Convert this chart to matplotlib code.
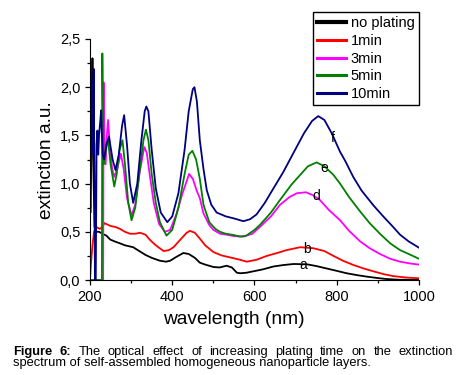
import numpy as np
import matplotlib
matplotlib.use("Agg")
import matplotlib.pyplot as plt
from matplotlib.ticker import MultipleLocator, FuncFormatter

plt.rcParams['font.family'] = ['Liberation Sans', 'DejaVu Sans']

# spectra (wavelength nm, extinction a.u.)
wl_a = [200, 201, 204, 206, 208, 211, 216, 222, 230, 240, 249, 260, 273, 285, 305, 320, 335, 350,
        370, 385, 395, 410, 427, 440, 455, 467, 480, 500, 515, 532, 545, 557, 565, 580, 597, 620,
        646, 670, 695, 727, 750, 775, 800, 824, 850, 873, 900, 921, 950, 1000]
ext_a = [0.75, 0.75, 1.5, 2.3, 1.2, 0.55, 0.5, 0.5, 0.48, 0.46, 0.42, 0.4, 0.38, 0.36, 0.34, 0.3, 0.26, 0.23,
         0.2, 0.19, 0.2, 0.24, 0.28, 0.27, 0.23, 0.18, 0.16, 0.135, 0.13, 0.148, 0.13, 0.076, 0.07, 0.075, 0.09, 0.11,
         0.14, 0.155, 0.166, 0.163, 0.145, 0.12, 0.095, 0.07, 0.05, 0.035, 0.02, 0.01, 0.003, 0.0]

wl_b = [200, 202, 206, 210, 215, 224, 230, 235, 240, 250, 262, 273, 285, 297, 310, 322, 335, 346,
        360, 379, 392, 403, 420, 435, 443, 455, 467, 480, 500, 520, 540, 565, 581, 605, 630, 655,
        678, 711, 743, 770, 792, 815, 841, 865, 889, 915, 938, 970, 1000]
ext_b = [0.0, 0.15, 0.36, 0.5, 0.55, 0.53, 0.55, 0.59, 0.58, 0.56, 0.55, 0.53, 0.5, 0.48, 0.48, 0.49, 0.47, 0.415,
         0.36, 0.3, 0.31, 0.34, 0.42, 0.49, 0.51, 0.49, 0.43, 0.36, 0.29, 0.255, 0.235, 0.21, 0.19, 0.21, 0.25, 0.28,
         0.31, 0.34, 0.33, 0.3, 0.25, 0.2, 0.155, 0.12, 0.09, 0.06, 0.04, 0.025, 0.018]

wl_c = [200, 232, 233, 235, 238, 241, 244, 248, 254, 259, 266, 275, 282, 290, 301, 310, 320, 332,
        338, 345, 355, 368, 382, 395, 410, 425, 441, 450, 460, 467, 476, 490, 500, 516, 532, 550,
        573, 595, 613, 640, 662, 685, 703, 725, 742, 759, 780, 808, 830, 857, 880, 905, 930, 954, 980, 1000]
ext_c = [0.0, 0.0, 2.05, 1.5, 1.2, 1.5, 1.66, 1.4, 1.15, 1.07, 1.15, 1.31, 1.15, 0.85, 0.67, 0.78, 1.1, 1.38,
         1.32, 1.1, 0.8, 0.58, 0.5, 0.52, 0.68, 0.9, 1.1, 1.05, 0.92, 0.85, 0.69, 0.57, 0.52, 0.48, 0.47, 0.455,
         0.45, 0.48, 0.55, 0.66, 0.78, 0.86, 0.9, 0.91, 0.88, 0.83, 0.73, 0.62, 0.51, 0.4, 0.33, 0.27, 0.22, 0.19, 0.17, 0.16]

wl_d = [200, 229, 230, 231, 233, 236, 240, 244, 250, 259, 265, 272, 279, 285, 293, 301, 310, 320,
        330, 336, 342, 350, 360, 370, 386, 400, 415, 430, 440, 449, 458, 467, 476, 490, 505, 516,
        530, 549, 565, 580, 600, 613, 640, 662, 690, 711, 730, 751, 770, 792, 808, 830, 857, 880,
        905, 930, 954, 980, 1000]
ext_d = [0.0, 0.0, 2.35, 1.9, 1.2, 1.25, 1.4, 1.45, 1.2, 0.97, 1.1, 1.35, 1.45, 1.2, 0.8, 0.62, 0.75, 1.1,
         1.45, 1.56, 1.45, 1.1, 0.8, 0.6, 0.46, 0.52, 0.75, 1.1, 1.3, 1.34, 1.25, 1.05, 0.78, 0.6, 0.53, 0.5,
         0.48, 0.467, 0.45, 0.46, 0.52, 0.57, 0.7, 0.83, 0.99, 1.09, 1.18, 1.22, 1.18, 1.09, 1.0, 0.86, 0.71, 0.59,
         0.48, 0.38, 0.31, 0.26, 0.22]

wl_e = [200, 201, 202, 204, 206, 207, 209, 211, 212, 214, 216, 218, 220, 222, 225, 227, 229, 231,
        234, 240, 246, 255, 262, 270, 278, 283, 290, 297, 305, 315, 325, 333, 337, 342, 350, 360,
        372, 388, 400, 415, 430, 440, 450, 454, 460, 467, 476, 484, 495, 508, 530, 549, 573, 589,
        605, 625, 646, 670, 695, 720, 740, 755, 770, 788, 808, 820, 840, 860, 873, 890, 913, 935,
        954, 975, 1000]
ext_e = [0.9, 0.7, 1.1, 1.9, 2.07, 1.3, 2.19, 1.0, 0.0, 0.0, 1.4, 1.55, 1.3, 1.5, 1.65, 1.76, 1.5, 1.3,
         1.25, 1.4, 1.49, 1.25, 1.14, 1.3, 1.6, 1.71, 1.4, 1.0, 0.8, 1.0, 1.45, 1.75, 1.8, 1.75, 1.35, 0.95,
         0.7, 0.6, 0.66, 0.9, 1.35, 1.75, 1.98, 2.0, 1.85, 1.45, 1.15, 0.93, 0.78, 0.7, 0.66, 0.64, 0.61, 0.63,
         0.68, 0.8, 0.95, 1.12, 1.32, 1.52, 1.65, 1.7, 1.66, 1.52, 1.33, 1.24, 1.07, 0.93, 0.86, 0.77, 0.66, 0.56,
         0.47, 0.4, 0.335]

series = [(wl_a, ext_a, 'black', 'no plating'),
          (wl_b, ext_b, '#ff0000', '1min'),
          (wl_c, ext_c, '#ff00ff', '3min'),
          (wl_d, ext_d, '#008000', '5min'),
          (wl_e, ext_e, '#000080', '10min')]

tags = ['a', 'b', 'd', 'e', 'f']
tag_x = [718, 728, 750, 769, 791]
tag_y = [0.156, 0.322, 0.87, 1.16, 1.47]

fig = plt.figure(figsize=(4.64, 3.75), dpi=100)
ax = fig.add_axes([90 / 464, 1 - 280 / 375, 329 / 464, 241 / 375])

lines = []
for x, y, c, lab in series:
    ln, = ax.plot(x, y, color=c, lw=1.3, label=lab)
    lines.append(ln)

for t, x, y in zip(tags, tag_x, tag_y):
    ax.text(x, y, t, fontsize=10, ha='center', va='center')

ax.set_xlim(200, 1000)
ax.set_ylim(0, 2.5)
ax.xaxis.set_major_locator(MultipleLocator(200))
ax.xaxis.set_minor_locator(MultipleLocator(100))
ax.yaxis.set_major_locator(MultipleLocator(0.5))
ax.yaxis.set_minor_locator(MultipleLocator(0.25))
ax.yaxis.set_major_formatter(FuncFormatter(lambda v, p: f"{v:.1f}".replace('.', ',')))
ax.spines['top'].set_visible(False)
ax.spines['right'].set_visible(False)
ax.tick_params(which='major', direction='out', length=3.5, width=0.9, labelsize=10.5)
ax.tick_params(which='minor', direction='out', length=2, width=0.9)

fig.text(234 / 464, 1 - 320 / 375, 'wavelength (nm)', fontsize=13.8, ha='center', va='center')
fig.text(47 / 464, 1 - 160 / 375, 'extinction a.u.', fontsize=13.8, ha='center', va='center', rotation=90)

leg = fig.legend(handles=lines, loc='upper right', bbox_to_anchor=(419 / 464, 1 - 12 / 375),
                 fontsize=10.5, frameon=True, fancybox=False, edgecolor='black', framealpha=1,
                 handlelength=2.0, handletextpad=0.3, labelspacing=0.25, borderpad=0.3, borderaxespad=0)
leg.get_frame().set_linewidth(1.0)
for h in leg.legend_handles:
    h.set_linewidth(2.2)
leg.legend_handles[0].set_linewidth(3)

# caption, first line justified
fig.canvas.draw()
r = fig.canvas.get_renderer()
cap_size = 9.25
words1 = [('Figure', 'bold'), ('6:', 'bold')] + [(w, 'normal') for w in
          'The optical effect of increasing plating time on the extinction'.split()]
txts = [fig.text(0, 0, w, fontsize=cap_size, fontweight=fw, va='baseline') for w, fw in words1]
widths = [t.get_window_extent(r).width for t in txts]
left, right = 13, 453
gap = (right - left - sum(widths)) / (len(txts) - 1)
xpos = left
for t, w in zip(txts, widths):
    t.set_position((xpos / 464, 1 - 355 / 375))
    xpos += w + gap
fig.text(left / 464, 1 - 366 / 375, 'spectrum of self-assembled homogeneous nanoparticle layers.',
         fontsize=cap_size, va='baseline')

fig.savefig('out.png', dpi=100)
